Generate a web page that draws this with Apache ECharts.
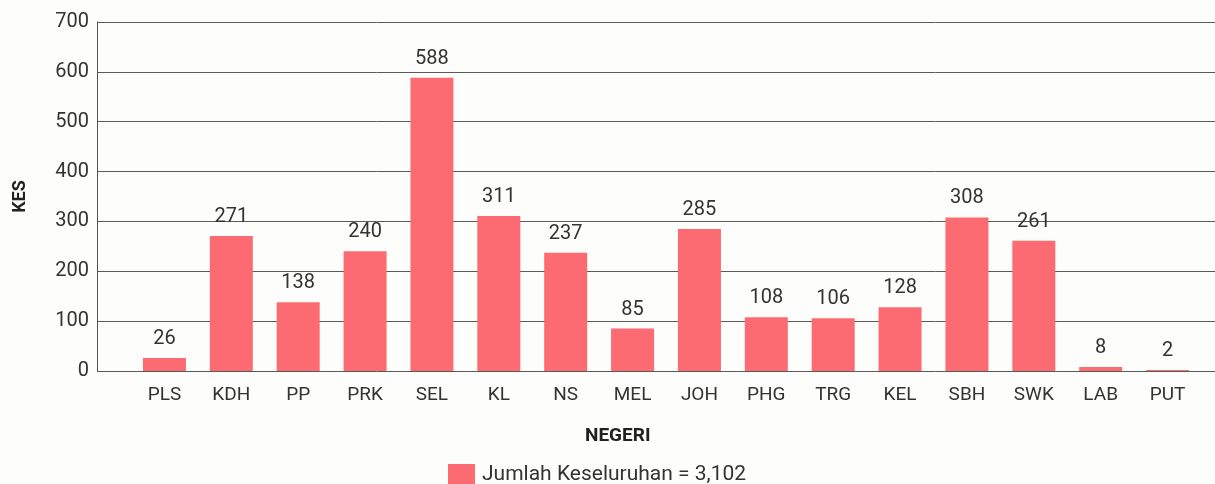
<!DOCTYPE html>
<html>
<head>
<meta charset="utf-8">
<script src="https://cdn.jsdelivr.net/npm/echarts@6/dist/echarts.min.js"></script>
<style>
  html, body { margin: 0; padding: 0; background: #fdfdfb; }
  #chart { width: 1215px; height: 484px; }
</style>
</head>
<body>
<div id="chart"></div>
<script>
var negeri = ['PLS', 'KDH', 'PP', 'PRK', 'SEL', 'KL', 'NS', 'MEL', 'JOH', 'PHG', 'TRG', 'KEL', 'SBH', 'SWK', 'LAB', 'PUT']
var kes = [26, 271, 138, 240, 588, 311, 237, 85, 285, 108, 106, 128, 308, 261, 8, 2]
var yTicks = [0, 100, 200, 300, 400, 500, 600, 700]
var legendName = 'Jumlah Keseluruhan = 3,102'

var chart = echarts.init(document.getElementById('chart'))
var font = 'Roboto, "Noto Sans", sans-serif'

chart.setOption({
  backgroundColor: '#fdfdfb',
  textStyle: { fontFamily: font },
  title: [{
    text: 'NEGERI',
    left: 580,
    top: 422,
    textStyle: { fontFamily: font, fontSize: 19, fontWeight: 'bold', color: '#222' }
  }],
  legend: {
    data: [legendName],
    left: 443,
    top: 459,
    icon: 'rect',
    itemWidth: 27,
    itemHeight: 22,
    itemGap: 10,
    textStyle: { fontFamily: font, fontSize: 21, color: '#333', padding: [0, 0, 0, 2] }
  },
  grid: [
    { left: 97, right: 0, top: 22, bottom: 113 },
    { left: 131, right: 14, top: 22, bottom: 113 }
  ],
  xAxis: [{
    gridIndex: 0,
    type: 'category',
    data: negeri,
    show: false
  }, {
    gridIndex: 1,
    type: 'category',
    data: negeri,
    axisLine: { show: false },
    axisTick: { show: false },
    axisLabel: { margin: 15, fontSize: 19, color: '#333', fontFamily: font }
  }],
  yAxis: [{
    gridIndex: 0,
    type: 'value',
    min: yTicks[0],
    max: yTicks[yTicks.length - 1],
    interval: 100,
    name: 'KES',
    nameLocation: 'middle',
    nameRotate: 90,
    nameGap: 68,
    nameTextStyle: { fontFamily: font, fontSize: 18, fontWeight: 'bold', color: '#222' },
    axisLine: { show: true, lineStyle: { color: '#555', width: 1 } },
    axisTick: { show: false },
    axisLabel: { margin: 8, fontSize: 20, color: '#333', fontFamily: font },
    splitLine: { lineStyle: { color: '#5a5a5a', width: 1 } }
  }, {
    gridIndex: 1,
    type: 'value',
    min: yTicks[0],
    max: yTicks[yTicks.length - 1],
    interval: 100,
    show: false,
    splitLine: { show: false }
  }],
  series: [{
    name: legendName,
    type: 'bar',
    xAxisIndex: 1,
    yAxisIndex: 1,
    barWidth: 43,
    itemStyle: { color: '#fb6b71' },
    label: {
      show: true,
      position: 'top',
      distance: 9,
      fontSize: 20,
      color: '#333',
      fontFamily: font
    },
    data: kes
  }]
})
</script>
</body>
</html>
